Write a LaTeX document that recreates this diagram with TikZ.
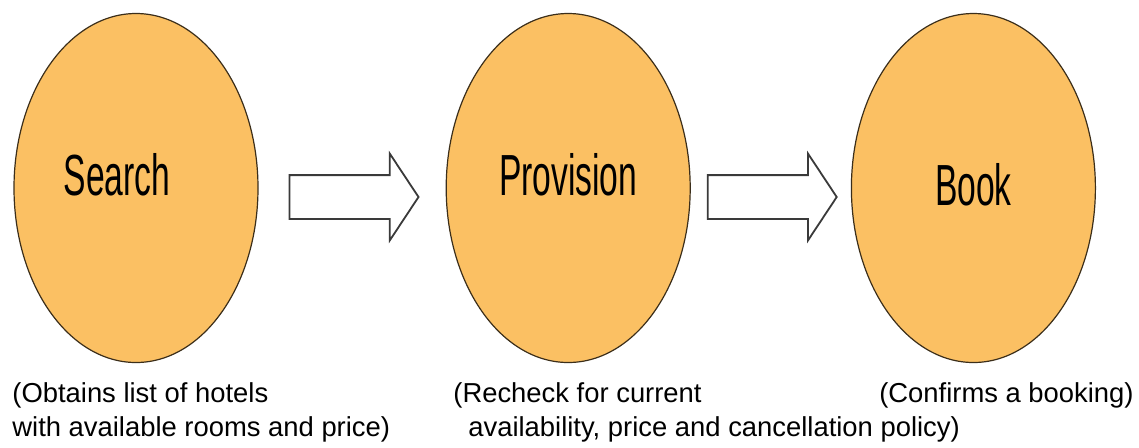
\documentclass[tikz,border=0pt]{standalone}
\usepackage{fontspec}
\setmainfont{Liberation Sans}
\usetikzlibrary{shapes.geometric, shapes.arrows, positioning}
\definecolor{mfill}{HTML}{FBC063}
\definecolor{mline}{HTML}{3B2E1A}
\definecolor{mgray}{HTML}{3A3A3A}
\newcommand{\narrowtext}[1]{\scalebox{0.58}[1]{#1}}
\tikzstyle{phase} = [ellipse, draw = mline, line width = 0.6pt, fill = mfill, minimum width = 122pt, minimum height = 174.5pt, inner sep = 0pt, font = \fontsize{29}{30}\selectfont]
\tikzstyle{raised} = [text height = 21pt, text depth = 14pt]
\tikzstyle{flow} = [single arrow, draw = mgray, line width = 0.9pt, fill = white, minimum height = 64.5pt, inner xsep = 0pt, inner ysep = 10.5pt, single arrow head extend = 10.75pt, single arrow tip angle = 113]
\tikzstyle{note} = [font = \fontsize{13.7}{17}\selectfont, align = left, inner sep = 0pt]

\begin{document}
\begin{tikzpicture}[x=0.5pt, y=-0.5pt]
  \useasboundingbox (0,0) rectangle (1139,447);
  \node (search) [phase, raised] at (136,188) {\narrowtext{Search}\hspace*{19pt}};
  \node (prov) [phase, raised, right = 93.5pt of search] {\narrowtext{Provision}};
  \node (book) [phase, text height = 21pt, text depth = 4pt, right = 80pt of prov] {\narrowtext{Book}};
  \node (go1) [flow, right = 15pt of search, yshift = -4.5pt] {};
  \node (go2) [flow, right = 8pt of prov, yshift = -4.5pt] {};
  \node (searchnote) [note, anchor = base west] at (12,436) {(Obtains list of hotels\\with available rooms and price)};
  \node (provnote) [note, anchor = base west] at (453,436) {(Recheck for current\\\hspace*{7.5pt}availability, price and cancellation policy)};
  \node (booknote) [note, anchor = base east] at (1134,402) {(Confirms a booking)};
\end{tikzpicture}
\end{document}
